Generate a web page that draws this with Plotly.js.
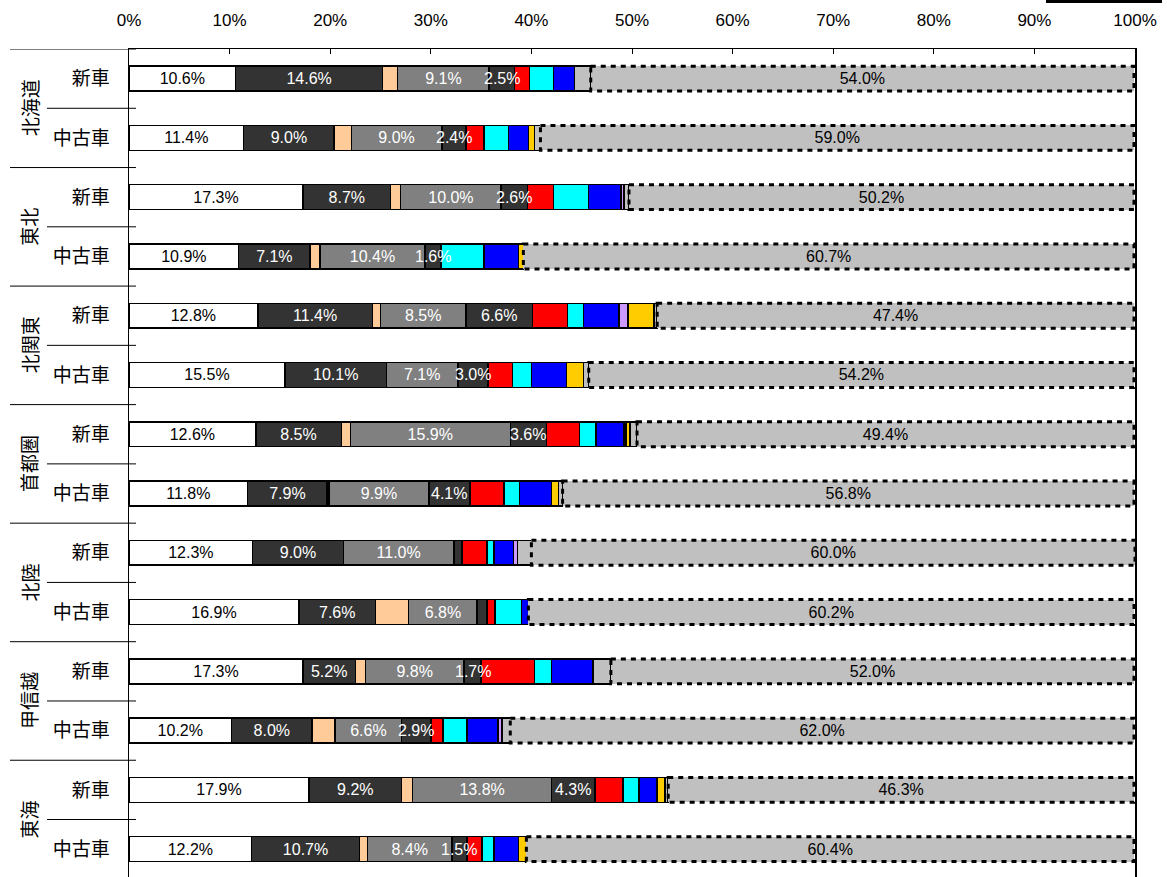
<!DOCTYPE html>
<html>
<head>
<meta charset="utf-8">
<script src="https://cdn.plot.ly/plotly-3.0.1.min.js"></script>
<style>html,body{margin:0;padding:0;background:#fff;}#chart{width:1167px;height:877px;}</style>
</head>
<body>
<div id="chart"></div>
<script>
const regions = ['北海道','東北','北関東','首都圏','北陸','甲信越','東海'];
const carTypes = ['新車','中古車'];
const xTicks = [0,10,20,30,40,50,60,70,80,90,100];

// one value per row: 北海道新車, 北海道中古車, 東北新車, ... 東海中古車
const whiteVals   = [10.6,11.4,17.3,10.9,12.8,15.5,12.6,11.8,12.3,16.9,17.3,10.2,17.9,12.2];
const dark1Vals   = [14.6, 9.0, 8.7, 7.1,11.4,10.1, 8.5, 7.9, 9.0, 7.6, 5.2, 8.0, 9.2,10.7];
const peachVals   = [ 1.5, 1.7, 1.0, 1.0, 0.8, 0.0, 0.9, 0.2, 0.0, 3.3, 1.0, 2.3, 1.1, 0.8];
const grayVals    = [ 9.1, 9.0,10.0,10.4, 8.5, 7.1,15.9, 9.9,11.0, 6.8, 9.8, 6.6,13.8, 8.4];
const dark2Vals   = [ 2.5, 2.4, 2.6, 1.6, 6.6, 3.0, 3.6, 4.1, 0.8, 1.0, 1.7, 2.9, 4.3, 1.5];
const redVals     = [ 1.5, 1.8, 2.6, 0.0, 3.5, 2.4, 3.3, 3.4, 2.5, 0.8, 5.3, 1.2, 2.8, 1.5];
const cyanVals    = [ 2.4, 2.4, 3.5, 4.3, 1.6, 1.9, 1.6, 1.5, 0.7, 2.6, 1.7, 2.4, 1.6, 1.2];
const blueVals    = [ 2.1, 2.0, 3.2, 3.4, 3.5, 3.5, 2.8, 3.2, 1.9, 0.7, 4.1, 3.1, 1.8, 2.4];
const lavVals     = [ 0.0, 0.0, 0.3, 0.0, 0.9, 0.0, 0.2, 0.0, 0.4, 0.0, 0.0, 0.4, 0.0, 0.0];
const yellowVals  = [ 0.0, 0.6, 0.0, 0.5, 2.6, 1.7, 0.4, 0.7, 0.0, 0.0, 0.0, 0.0, 0.8, 0.8];
const ltgrayVals  = [ 1.6, 0.6, 0.5, 0.0, 0.3, 0.5, 0.7, 0.4, 1.4, 0.0, 1.8, 0.8, 0.3, 0.0];
const otherVals   = [54.0,59.0,50.2,60.7,47.4,54.2,49.4,56.8,60.0,60.2,52.0,62.0,46.3,60.4];
// which rows show a label on the second dark segment
const dark2Shown  = [true,true,true,true,true,true,true,true,false,false,true,true,true,true];

const nRows = regions.length * carTypes.length;
const rowIdx = Array.from({length: nRows}, (_, i) => i);
const pct = v => v.toFixed(1) + '%';
const FONT = '"Noto Sans CJK JP", "Noto Sans", sans-serif';
const NUMFONT = '"Liberation Sans", Arial, sans-serif';
const BW = 0.42;
const LBL = 16;

const series = [
  {vals: whiteVals,  color: '#FFFFFF', text: whiteVals.map(pct), tcolor: '#000000'},
  {vals: dark1Vals,  color: '#333333', text: dark1Vals.map(pct), tcolor: '#FFFFFF'},
  {vals: peachVals,  color: '#FFCC99'},
  {vals: grayVals,   color: '#808080', text: grayVals.map(pct), tcolor: '#FFFFFF'},
  {vals: dark2Vals,  color: '#333333'},
  {vals: redVals,    color: '#FF0000'},
  {vals: cyanVals,   color: '#00FFFF'},
  {vals: blueVals,   color: '#0000FF'},
  {vals: lavVals,    color: '#CC99FF'},
  {vals: yellowVals, color: '#FFCC00'},
  {vals: ltgrayVals, color: '#C0C0C0'},
  {vals: otherVals,  color: '#C0C0C0', text: otherVals.map(pct), tcolor: '#000000', noLine: true}
];

const traces = series.map(s => ({
  type: 'bar',
  orientation: 'h',
  y: rowIdx,
  x: s.vals.map(v => v === 0 ? null : v),
  width: BW,
  marker: {color: s.color, line: {color: '#000000', width: s.noLine ? 0 : 1.5}},
  text: s.text || null,
  textposition: s.text ? 'inside' : 'none',
  insidetextanchor: 'middle',
  textangle: 0,
  constraintext: 'none',
  textfont: {family: NUMFONT, size: LBL, color: s.tcolor || '#000'},
  hoverinfo: 'skip',
  showlegend: false,
  cliponaxis: false
}));

const cumStart = (i, k) => { let s = 0; for (let j = 0; j < k; j++) s += series[j].vals[i]; return s; };

const shapes = [];
// dotted outline round the last segment
rowIdx.forEach(i => {
  const start = cumStart(i, series.length - 1);
  shapes.push({type: 'rect', xref: 'x', yref: 'y', layer: 'above',
    x0: start, x1: start + otherVals[i], y0: i - BW/2, y1: i + BW/2,
    line: {color: '#000000', width: 3, dash: '5px,5px'}, fillcolor: 'rgba(0,0,0,0)'});
});
// category separators
const plotW = 1006;
const px = p => (p - 129) / plotW;
for (let g = 0; g < regions.length; g++) {
  shapes.push({type: 'line', xref: 'paper', yref: 'y', x0: px(10), x1: px(136),
    y0: 2*g - 0.5, y1: 2*g - 0.5, line: {color: '#000', width: 1}});
  shapes.push({type: 'line', xref: 'paper', yref: 'y', x0: px(47), x1: px(136),
    y0: 2*g + 0.5, y1: 2*g + 0.5, line: {color: '#000', width: 1}});
}
// legend fragment at top right
shapes.push({type: 'line', xref: 'paper', yref: 'paper', x0: px(1046), x1: px(1162),
  y0: 1 + 47.5/828, y1: 1 + 47.5/828, line: {color: '#000', width: 3}});

const annotations = regions.map((r, g) => ({
  text: r, xref: 'paper', yref: 'y', x: px(29), y: 2*g + 0.5,
  xanchor: 'center', yanchor: 'middle', textangle: -90, showarrow: false,
  font: {family: FONT, size: 19, color: '#000'}
}));
// labels of the second dark segment, drawn above the neighbouring bars
rowIdx.forEach(i => {
  if (!dark2Shown[i]) return;
  annotations.push({text: pct(dark2Vals[i]), xref: 'x', yref: 'y',
    x: cumStart(i, 4) + dark2Vals[i] / 2, y: i, xanchor: 'center', yanchor: 'middle',
    showarrow: false, font: {family: NUMFONT, size: LBL, color: '#FFFFFF'}});
});

const layout = {
  width: 1167, height: 877,
  margin: {l: 129, r: 32, t: 49, b: 0, pad: 0},
  barmode: 'stack',
  paper_bgcolor: '#fff', plot_bgcolor: '#fff',
  font: {family: FONT, color: '#000'},
  xaxis: {
    side: 'top', range: [0, 100], tickvals: xTicks, ticktext: xTicks.map(v => v + '%'),
    ticks: 'inside', ticklen: 5, tickcolor: '#000', tickwidth: 1,
    showline: true, linecolor: '#000', linewidth: 1.5, mirror: false,
    showgrid: false, zeroline: false, ticklabelstandoff: 15,
    tickfont: {family: NUMFONT, size: 17, color: '#000'}, fixedrange: true
  },
  yaxis: {
    range: [13.47, -0.5], tickvals: rowIdx,
    ticktext: rowIdx.map(i => carTypes[i % 2]),
    ticks: '', showline: true, linecolor: '#000', linewidth: 1.5, mirror: true,
    showgrid: false, zeroline: false, ticklabelstandoff: 14,
    tickfont: {family: FONT, size: 19, color: '#000'}, fixedrange: true
  },
  shapes: shapes,
  annotations: annotations
};

Plotly.newPlot('chart', traces, layout, {displayModeBar: false, staticPlot: true});
</script>
</body>
</html>
